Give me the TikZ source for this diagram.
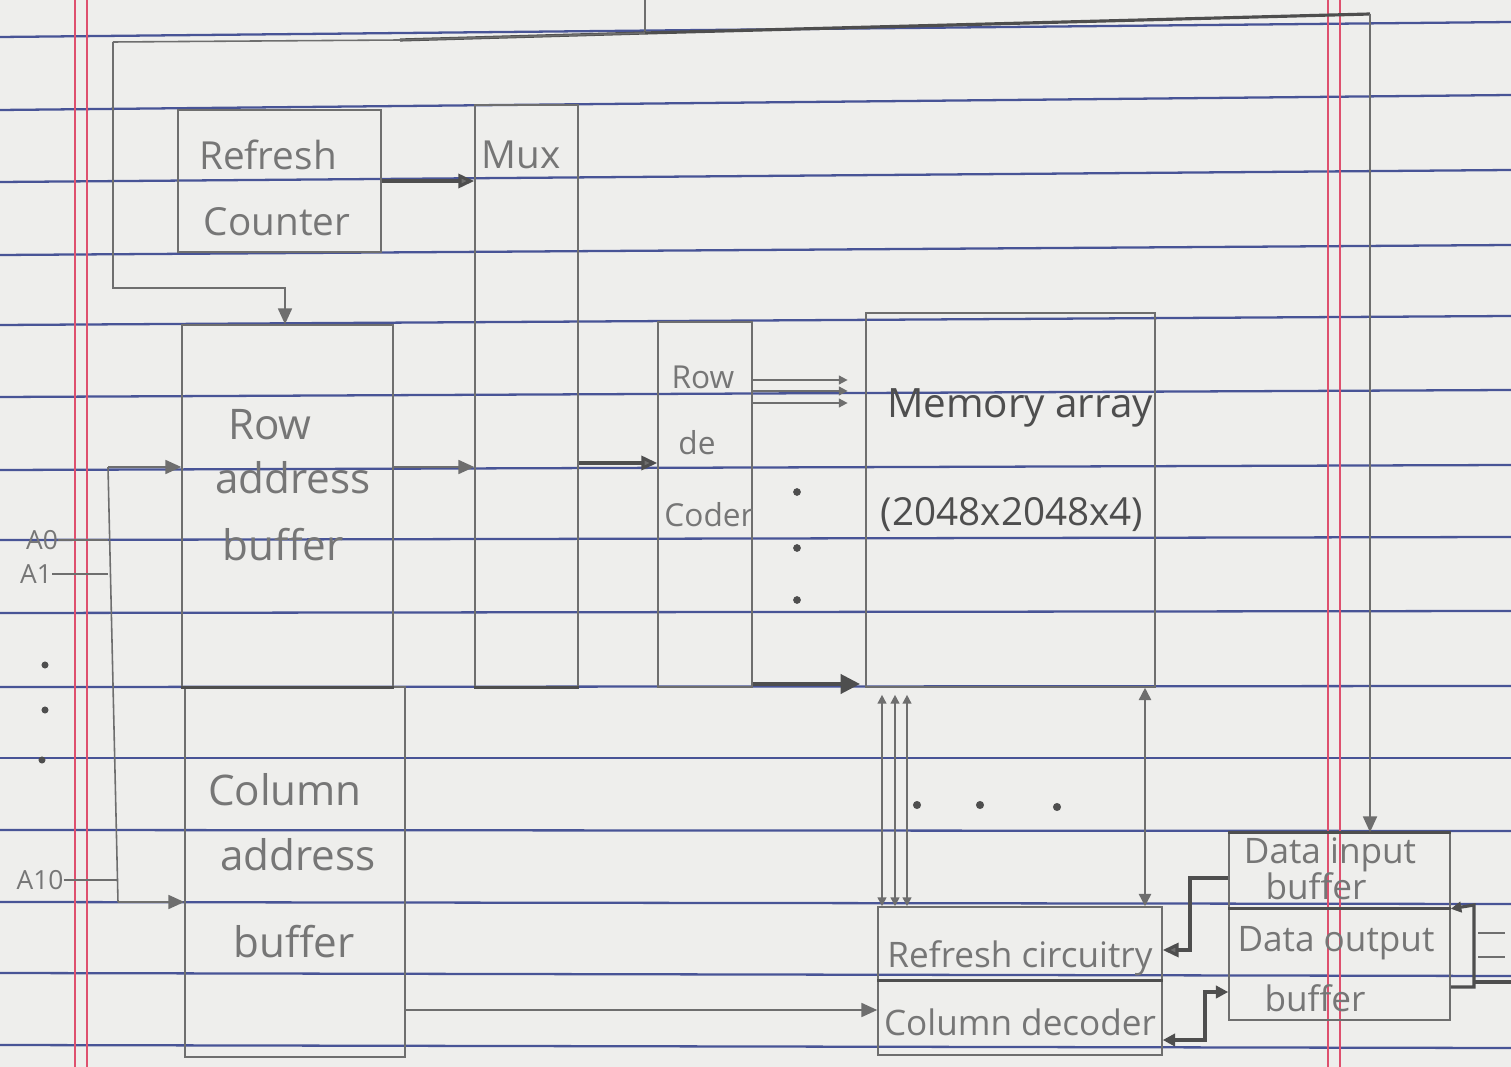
\documentclass[tikz,border=0pt]{standalone}
\usepackage{fontspec}
\setmainfont{Open Sans}
\usetikzlibrary{arrows.meta,fit}
\definecolor{paper}{RGB}{238,238,236}
\definecolor{ruleblue}{RGB}{72,84,150}
\definecolor{marginred}{RGB}{222,80,110}
\definecolor{pencil}{RGB}{110,110,110}
\definecolor{darkpencil}{RGB}{78,78,78}
\definecolor{pentext}{RGB}{118,118,118}
\newcommand\fsz[1]{\fontsize{#1}{#1}\selectfont}
\begin{document}
\begin{tikzpicture}[x=0.02cm,y=-0.02cm,
  box/.style={draw=pencil,line width=0.9pt,inner sep=0pt},
  wire/.style={draw=pencil,line width=0.9pt},
  thickwire/.style={draw=darkpencil,line width=1.8pt},
  tip/.style={-{Triangle[length=9pt,width=8pt,fill=pencil]}},
  smalltips/.style={{Triangle[length=5pt,width=5pt]}-{Triangle[length=5pt,width=5pt]}},
  bothtips/.style={{Triangle[length=7pt,width=7pt]}-{Triangle[length=7pt,width=7pt]}},
  lbl/.style={text=pentext,inner sep=0pt,font=\fsz{#1}},
  dot/.style={fill=darkpencil}
]
% paper
\useasboundingbox (0,0) rectangle (1511,1067);
\fill[paper] (0,0) rectangle (1511,1067);
\foreach \l/\r in {37/22,110/95,182/170,255/245,325/316,397/390,470/465,540/537,613/611,687/686,758/758,830/831,902/904,973/976,1045/1048}
  \draw[ruleblue,line width=1.3pt] (0,\l) -- (1511,\r);
\foreach \x in {75,87,1328,1340}
  \draw[marginred,line width=0.7pt] (\x,0) -- (\x,1067);

% boxes
\node[box,fit={(178,110) (381,252)}] (rc) {};
\node[box,fit={(475,105) (578,687)}] (mux) {};
\node[box,fit={(182,325) (393,687)}] (rab) {};
\node[box,fit={(185,687) (405,1057)}] (cab) {};
\node[box,fit={(658,322) (752,687)}] (rd) {};
\node[box,fit={(866,313) (1155,687)}] (ma) {};
\node[box,fit={(878,907) (1162,980)}] (rcirc) {};
\node[box,fit={(878,980) (1162,1055)}] (cd) {};
\node[box,fit={(1229,833) (1450,908)}] (dib) {};
\node[box,fit={(1229,908) (1450,1020)}] (dob) {};
\draw[thickwire] (rab.south west) -- (rab.south east);
\draw[thickwire] (mux.south west) -- (mux.south east);
\draw[thickwire] (rcirc.south west) -- (rcirc.south east);
\draw[thickwire] (dib.north west) -- (dib.north east);
\draw[thickwire] (dib.south west) -- (dib.south east);

% labels
\node[lbl=22] (t1) at (268,155) {Refresh};
\node[lbl=22] (t2) at (277,222) {Counter};
\node[lbl=22] (t3) at (521,155) {Mux};
\node[lbl=24] (t4) at (270,425) {Row};
\node[lbl=24] (t5) at (293,478) {address};
\node[lbl=24] (t6) at (283,545) {buffer};
\node[lbl=24] (t7) at (285,790) {Column};
\node[lbl=24] (t8) at (298,855) {address};
\node[lbl=24] (t9) at (294,942) {buffer};
\node[lbl=18] (t10) at (703,377) {Row};
\node[lbl=18] (t11) at (697,443) {de};
\node[lbl=18] (t12) at (709,515) {Coder};
\node[lbl=23,text=darkpencil] (t13) at (1020,408) {Memory array};
\node[lbl=22,text=darkpencil] (t14) at (1012,515) {(2048x2048x4)};
\node[lbl=20] (t15) at (1020,958) {Refresh circuitry};
\node[lbl=20] (t16) at (1020,1022) {Column decoder};
\node[lbl=20] (t17) at (1330,855) {Data input};
\node[lbl=20] (t18) at (1316,886) {buffer};
\node[lbl=20] (t19) at (1336,943) {Data output};
\node[lbl=20] (t20) at (1315,998) {buffer};
\node[lbl=15] (a0) at (42,540) {A0};
\node[lbl=15] (a1) at (36,574) {A1};
\node[lbl=15] (a10) at (40,880) {A10};
\fill[dot] (45,665) circle (2pt) (45,710) circle (2pt) (42,760) circle (2pt);

% top feedback network
\coordinate (src) at (645,0);
\coordinate (jn) at (645,33);
\coordinate (tl) at (113,42);
\coordinate (tm) at (400,40);
\coordinate (tr) at (1370,14);
\coordinate (lb) at (113,288);
\coordinate (lb2) at (285,288);
\draw[wire] (src) -- (jn);
\draw[thickwire] (tm) -- (jn) -- (tr);
\draw[wire] (jn) -- (tm) -- (tl);
\draw[wire,tip] (tl) -- (lb) -- (lb2) -- (lb2 |- rab.north);
\draw[wire,tip] (tr) -- (tr |- dib.north);

% address bus
\coordinate (bt) at (108,467);
\coordinate (bb) at (118,902);
\draw[wire] (bt) -- (bb);
\draw[wire,tip] (bt) -- (bt -| rab.west);
\draw[wire,tip] (bb) -- (bb -| cab.west);
\draw[wire] (a0.east) -- (a0.east -| bt);
\draw[wire] (a1.east) -- (a1.east -| bt);
\draw[wire] (a10.east) -- (a10.east -| bb);

% main row path
\coordinate (y467) at (0,467);
\coordinate (y463) at (0,463);
\draw[thickwire,tip] (rc.east) -- (rc.east -| mux.west);
\draw[wire,tip] (rab.east |- y467) -- (mux.west |- y467);
\draw[thickwire,tip] (mux.east |- y463) -- (rd.west |- y463);

% row decoder to memory array
\foreach \y in {380,391,403} {
  \coordinate (r\y) at (0,\y);
  \draw[wire,-{Triangle[length=5pt,width=5pt]},shorten >=10pt] (rd.east |- r\y) -- (ma.west |- r\y);
}
\fill[dot] (797,492) circle (2.2pt) (797,548) circle (2.2pt) (797,600) circle (2.2pt);
\coordinate (y684) at (0,684);
\draw[thickwire,-{Triangle[length=11pt,width=11pt]},shorten >=3pt] (rd.east |- y684) -- (ma.west |- y684);

% memory array <-> refresh circuitry
\foreach \x in {882,895,907} {
  \coordinate (c\x) at (\x,0);
  \draw[wire,smalltips,shorten <=4pt] (c\x |- ma.south) -- (c\x |- rcirc.north);
}
\coordinate (c1145) at (1145,0);
\draw[wire,bothtips] (c1145 |- ma.south) -- (c1145 |- rcirc.north);
\fill[dot] (917,805) circle (2.3pt) (980,805) circle (2.3pt) (1057,807) circle (2.3pt);

% column address buffer -> column decoder
\coordinate (y1010) at (0,1010);
\draw[wire,tip] (cab.east |- y1010) -- (cd.west |- y1010);

% data buffers
\coordinate (y878) at (0,878);
\coordinate (k1) at (1190,878);
\coordinate (k2) at (1190,950);
\draw[thickwire,tip] (dib.west |- y878) -- (k1) -- (k2) -- (rcirc.east |- k2);
\coordinate (k3) at (1205,1040);
\coordinate (k4) at (1205,992);
\draw[thickwire,bothtips] (cd.east |- k3) -- (k3) -- (k4) -- (dob.west |- k4);
\coordinate (b1) at (1474,905);
\coordinate (b2) at (1474,987);
\draw[thickwire,{Triangle[length=6pt,width=6pt]}-] (dib.south east) -- (b1) -- (b2) -- (dob.east |- b2);
\coordinate (e1) at (1478,933);
\coordinate (e2) at (1505,933);
\coordinate (e3) at (1478,957);
\coordinate (e4) at (1505,957);
\coordinate (e5) at (1474,982);
\coordinate (e6) at (1511,982);
\draw[wire] (e1) -- (e2);
\draw[wire] (e3) -- (e4);
\draw[thickwire] (e5) -- (e6);
\end{tikzpicture}
\end{document}
